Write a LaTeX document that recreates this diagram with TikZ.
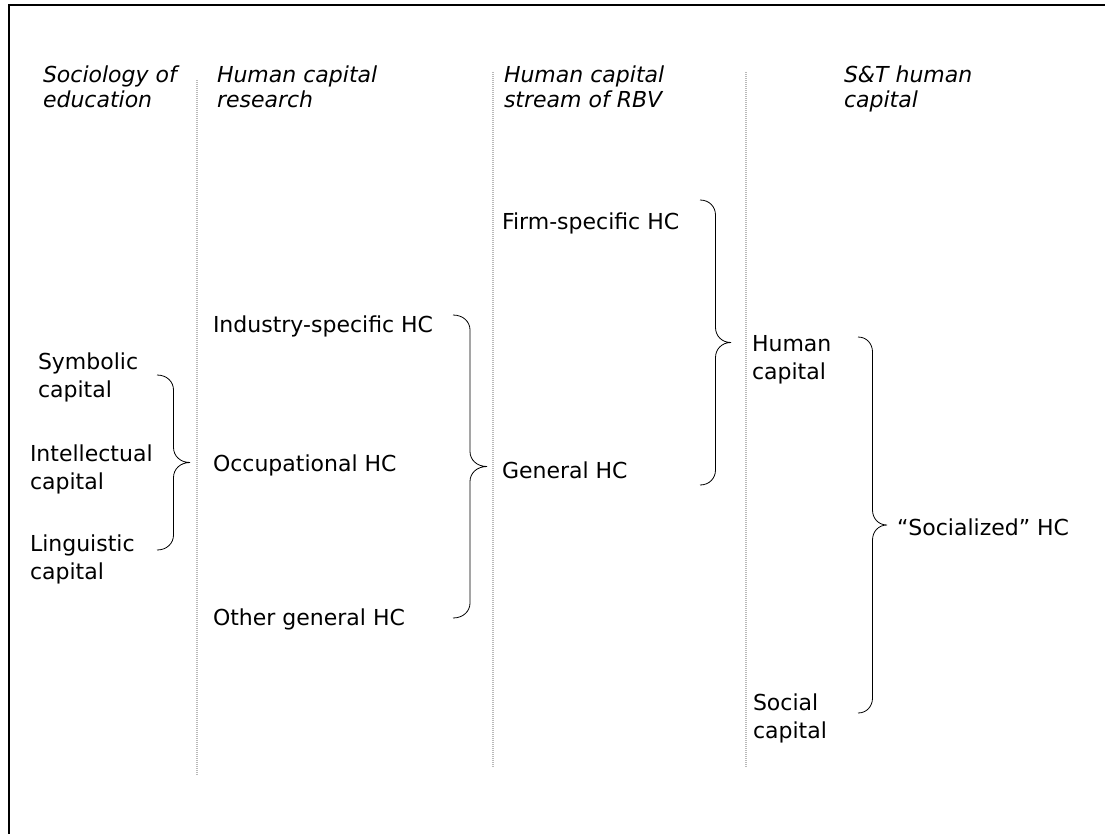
\documentclass[tikz,border=0pt]{standalone}
\usepackage{fontspec}
\setmainfont{DejaVu Sans}
\usetikzlibrary{calc}
% #1 top coordinate, #2 bottom coordinate, #3 half width, #4 end radius
\newcommand{\curlybr}[4]{%
\draw[bline] (#1) .. controls +(0.6*#3,0) and +(0,-0.55*#4) .. ($(#1)+(#3,#4)$)
 -- ($(#1)!0.5!(#2)+(#3,-#4)$) .. controls +(0,0.55*#4) and +(-0.6*#3,0) .. ($(#1)!0.5!(#2)+(2*#3,0)$)
 .. controls +(-0.6*#3,0) and +(0,-0.55*#4) .. ($(#1)!0.5!(#2)+(#3,#4)$)
 -- ($(#2)+(#3,-#4)$) .. controls +(0,0.55*#4) and +(0.6*#3,0) .. (#2);}
\begin{document}
\begin{tikzpicture}[x=1pt,y=-1pt,
  every node/.style={inner sep=0pt, outer sep=0pt},
  head/.style={anchor=north west, align=left, font=\fontsize{22}{25.5}\selectfont\itshape},
  item/.style={anchor=north west, align=left, font=\fontsize{22}{28}\selectfont},
  single/.style={anchor=base west, font=\fontsize{22}{28}\selectfont},
  sep/.style={draw=gray!55, line width=1.3pt, dash pattern=on 1pt off 1pt},
  bline/.style={draw=black, line width=0.8pt}]
\useasboundingbox (0,0) rectangle (1105,833);
% frame
\draw[line width=2pt] (1106,5) -- (9,5) -- (9,834);
% separators
\coordinate (s1t) at (197,80);  \coordinate (s1b) at (197,776);
\coordinate (s2t) at (493,72);  \coordinate (s2b) at (493,767);
\coordinate (s3t) at (746,72);  \coordinate (s3b) at (746,767);
\draw[sep] (s1t) -- (s1b);
\draw[sep] (s2t) -- (s2b);
\draw[sep] (s3t) -- (s3b);
% headers
\node[head] (h1) at (43,65.3) {Sociology of\\education};
\node[head] (h2) at (217,65.3) {Human capital\\research};
\node[head] (h3) at (504,65.3) {Human capital\\stream of RBV};
\node[head] (h4) at (844,65.3) {S\&T human\\capital};
% column 1
\node[item] (sym) at (38,352.3) {Symbolic\\capital};
\node[item] (int) at (30,444.3) {Intellectual\\capital};
\node[item] (lin) at (30,534.3) {Linguistic\\capital};
% column 2
\node[single] (ind) at (213,332) {Industry-specific HC};
\node[single] (occ) at (213,471) {Occupational HC};
\node[single] (oth) at (213,625) {Other general HC};
% column 3
\node[single] (firm) at (502,229) {Firm-specific HC};
\node[single] (gen) at (502,478) {General HC};
% column 4
\node[item] (hum) at (752,335.3) {Human\\capital};
\node[item] (soc) at (753,693.3) {Social\\capital};
\node[single] (socz) at (897,535) {“Socialized” HC};
% braces
\coordinate (b1t) at (157,375); \coordinate (b1b) at (157,550);
\coordinate (b2t) at (453,315); \coordinate (b2b) at (453,618);
\coordinate (b3t) at (700,200); \coordinate (b3b) at (700,485);
\coordinate (b4t) at (858,337); \coordinate (b4b) at (858,713);
\curlybr{b1t}{b1b}{16.5}{15}
\curlybr{b2t}{b2b}{17}{15}
\curlybr{b3t}{b3b}{15.5}{15}
\curlybr{b4t}{b4b}{14.5}{15}
\end{tikzpicture}
\end{document}
